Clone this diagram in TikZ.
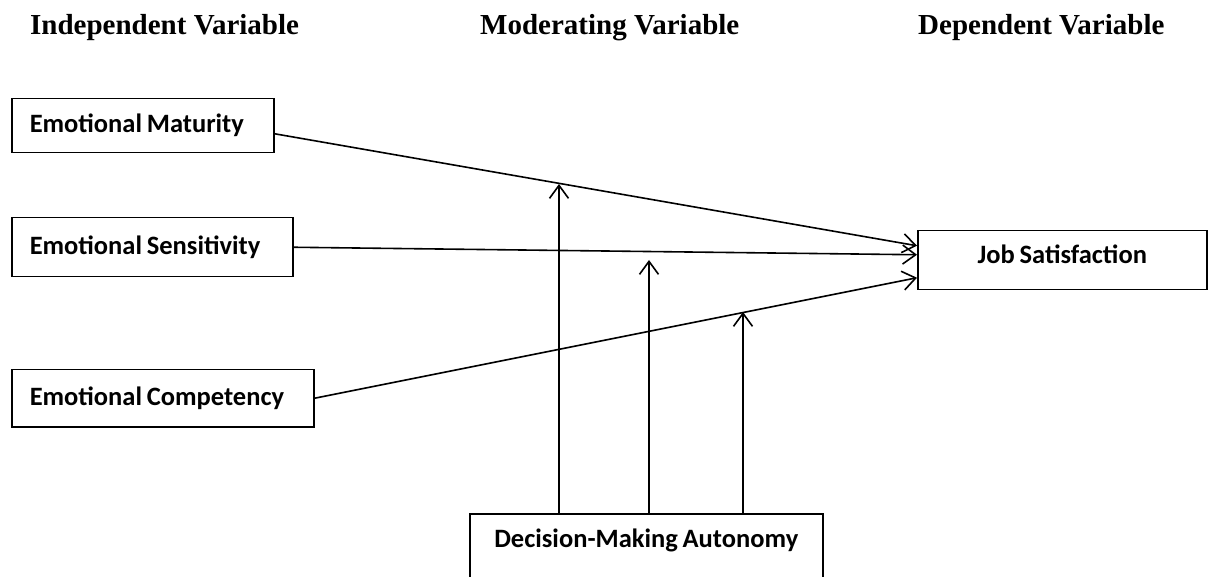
\documentclass[tikz,border=0pt]{standalone}
\usepackage{fontspec}
\setmainfont{Liberation Serif}
\newfontfamily\calibrifont[WordSpace=0.8]{Carlito}
\usetikzlibrary{arrows.meta, positioning, calc}
\tikzset{
    base/.style = {
        draw=black, line width=1.5pt, rectangle,
        font=\calibrifont\bfseries\fontsize{26.5}{30}\selectfont
    },
    % Boxes
    factor/.style    = {base, anchor=north west, inner xsep=18pt, align=flush left},
    outcome/.style   = {base, anchor=north west, align=center, minimum width=289pt,
                        minimum height=59pt, text depth=13pt},
    moderator/.style = {base, anchor=north west, align=center, minimum width=353pt,
                        inner ysep=10pt, text height=24pt, text depth=45pt},
    % Column titles
    heading/.style = {anchor=base west, inner sep=0pt, font=\bfseries\fontsize{29}{34}\selectfont},
    % Edges
    arrow/.style = {line width=1.6pt, -{Straight Barb[length=13pt,width=19pt]}}
}
\begin{document}
\begin{tikzpicture}[x=1pt, y=-1pt]
    \path[use as bounding box, fill=white] (0,0) rectangle (1208,577);

    \node (indep) [heading] at (30,35) {Independent Variable};
    \node (moder) [heading] at (480,35) {Moderating Variable};
    \node (dep)   [heading] at (918,35) {Dependent Variable};

    \node (maturity)    [factor, text width=226pt, minimum height=54pt] at (11,98)  {Emotional Maturity};
    \node (sensitivity) [factor, text width=245pt, minimum height=59pt] at (11,217) {Emotional Sensitivity};
    \node (competency)  [factor, text width=266pt, minimum height=57pt] at (11,369) {Emotional Competency};

    \node (satisfaction) [outcome]   at (917,230) {Job Satisfaction};
    \node (autonomy)     [moderator] at (469,513) {Decision-Making Autonomy};

    % where the moderating arrows meet the paths
    \coordinate (hitA) at (559,184);
    \coordinate (hitB) at (649,260);
    \coordinate (hitC) at (743,312);

    \draw [arrow] ([yshift=-8pt]maturity.east) -- ([yshift=14.5pt]satisfaction.west);
    \draw [arrow] (sensitivity.east) -- ([yshift=5.5pt]satisfaction.west);
    \draw [arrow] (competency.east) -- ([yshift=-17.5pt]satisfaction.west);

    \draw [arrow] (autonomy.north -| hitA) -- (hitA);
    \draw [arrow] (autonomy.north -| hitB) -- (hitB);
    \draw [arrow] (autonomy.north -| hitC) -- (hitC);
\end{tikzpicture}
\end{document}
